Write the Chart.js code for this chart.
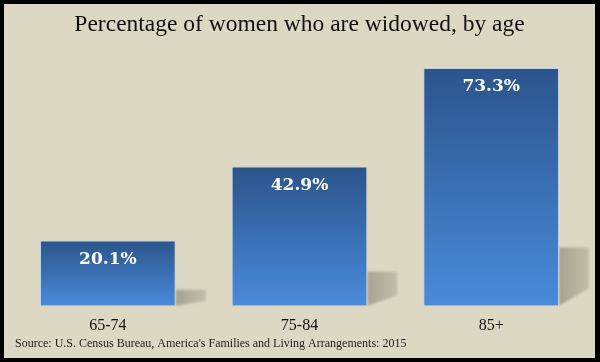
<!DOCTYPE html>
<html>
<head>
<meta charset="utf-8">
<script src="https://cdn.jsdelivr.net/npm/chart.js@4/dist/chart.umd.min.js"></script>
<style>
  html, body { margin: 0; padding: 0; background: #fff; }
  #wrap {
    width: 600px; height: 362px; box-sizing: border-box;
    border: 4px solid #000; border-right-width: 5px;
    background: #ddd8c3; position: relative;
  }
</style>
</head>
<body>
<div id="wrap"><canvas id="chart"></canvas></div>
<script>
// data
const ageGroups = ['65-74', '75-84', '85+'];
const widowedPct = [20.1, 42.9, 73.3];
const titleText = 'Percentage of women who are widowed, by age';
const sourceText = "Source: U.S. Census Bureau, America's Families and Living Arrangements: 2015";

const SERIF = '"Liberation Serif", "DejaVu Serif", serif';

// gradient fill + cast shadow behind each bar
const barLook = {
  id: 'barLook',
  beforeDatasetsDraw(chart) {
    const ctx = chart.ctx;
    const meta = chart.getDatasetMeta(0);
    meta.data.forEach(bar => {
      const half = bar.width / 2;
      const right = bar.x + half;
      const top = bar.y, base = bar.base;
      const s = (base - top) * 0.245;
      const w = 30;
      // shadow
      ctx.save();
      const sg = ctx.createLinearGradient(right, 0, right + w, 0);
      sg.addColorStop(0, 'rgba(130,128,110,0.6)');
      sg.addColorStop(1, 'rgba(130,128,110,0.3)');
      ctx.fillStyle = sg;
      ctx.filter = 'blur(1px)';
      ctx.beginPath();
      ctx.moveTo(right, base);
      ctx.lineTo(right, base - s);
      ctx.lineTo(right + w, base - s);
      ctx.lineTo(right + w, base - s * 0.3);
      ctx.closePath();
      ctx.fill();
      ctx.restore();
      // gradient for the bar itself
      const g = ctx.createLinearGradient(0, top, 0, base);
      g.addColorStop(0, '#2b548b');
      g.addColorStop(0.5, '#3a6fb3');
      g.addColorStop(1, '#4a8bdb');
      bar.options.backgroundColor = g;
    });
  }
};

// value labels inside the top of each bar, and the source line
const textBits = {
  id: 'textBits',
  afterDatasetsDraw(chart) {
    const ctx = chart.ctx;
    const meta = chart.getDatasetMeta(0);
    ctx.save();
    ctx.fillStyle = '#ffffff';
    ctx.font = 'bold 17px "DejaVu Serif", serif';
    ctx.textAlign = 'center';
    ctx.textBaseline = 'middle';
    meta.data.forEach((bar, i) => {
      ctx.fillText(widowedPct[i].toFixed(1) + '%', bar.x, bar.y + 19);
    });
    ctx.fillStyle = '#222';
    ctx.font = '12px ' + SERIF;
    ctx.textAlign = 'left';
    ctx.fillText(sourceText, 11, chart.height - 14);
    ctx.restore();
  }
};

new Chart(document.getElementById('chart'), {
  type: 'bar',
  data: {
    labels: ageGroups,
    datasets: [{
      data: widowedPct,
      // scriptable so every bar gets its own options object
      backgroundColor: () => '#3a6fb3',
      borderColor: 'rgba(190,210,235,0.9)',
      borderWidth: 1,
      categoryPercentage: 1,
      barPercentage: 0.708
    }]
  },
  options: {
    responsive: true,
    maintainAspectRatio: false,
    animation: false,
    layout: { padding: { left: 8, right: 8, top: 0, bottom: 13 } },
    plugins: {
      legend: { display: false },
      tooltip: { enabled: false },
      title: {
        display: true,
        text: titleText,
        color: '#111',
        font: { family: SERIF, size: 23.5, weight: 'normal' },
        padding: { top: 7, bottom: 7 }
      }
    },
    scales: {
      x: {
        grid: { display: false, drawTicks: false },
        border: { display: false },
        ticks: {
          color: '#111',
          padding: 10,
          font: { family: SERIF, size: 16 }
        }
      },
      y: {
        display: false,
        min: 0,
        max: 80
      }
    }
  },
  plugins: [barLook, textBits]
});
</script>
</body>
</html>
